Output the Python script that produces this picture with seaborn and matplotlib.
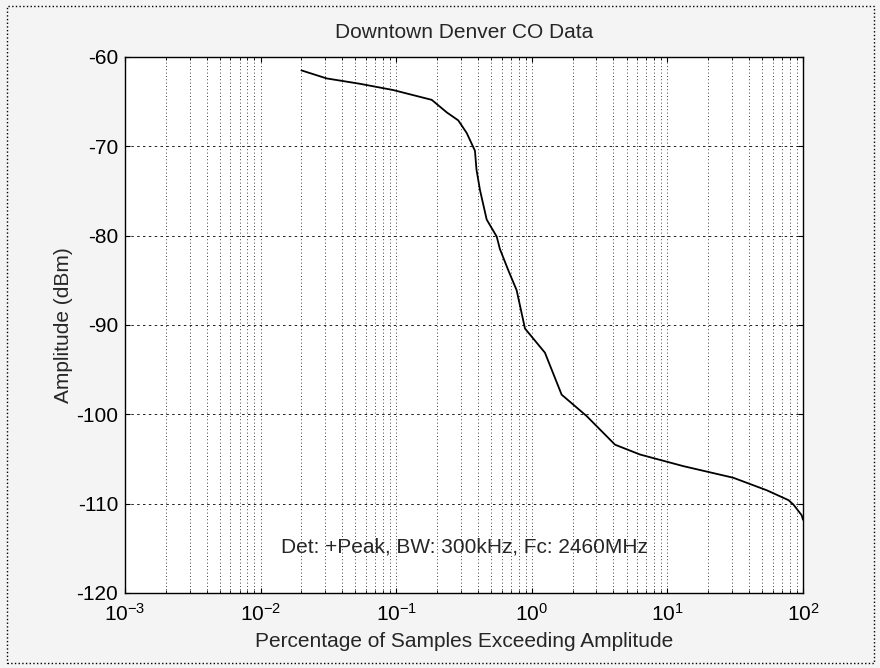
import matplotlib
matplotlib.use('Agg')
import matplotlib.pyplot as plt
import seaborn as sns
from matplotlib.patches import Rectangle

# Percentage of samples exceeding amplitude vs amplitude (dBm)
pct = [0.02, 0.0307, 0.054, 0.095, 0.183, 0.236, 0.287, 0.331, 0.381, 0.391,
       0.415, 0.465, 0.551, 0.582, 0.672, 0.773, 0.891, 1.25, 1.66, 2.54,
       4.11, 6.28, 13.1, 30.6, 54.0, 78.0, 85.0, 97.8, 100.0]
amp = [-61.5, -62.4, -63.0, -63.7, -64.8, -66.2, -67.1, -68.5, -70.5, -72.6,
       -74.9, -78.2, -80.1, -81.5, -83.9, -86.1, -90.4, -93.1, -97.8, -100.2,
       -103.4, -104.5, -105.8, -107.1, -108.5, -109.6, -110.1, -111.3, -111.8]

y_ticks = [-120, -110, -100, -90, -80, -70, -60]

sns.set_style('ticks')
plt.rcParams['font.family'] = ['Liberation Sans', 'DejaVu Sans']
plt.rcParams['axes.unicode_minus'] = False
fs = 15

fig = plt.figure(figsize=(8.8, 6.68), dpi=100, facecolor='#f4f4f4')
ax = fig.add_axes([0.142, 0.1123, 0.7705, 0.8024])
ax.set_facecolor('white')

sns.lineplot(x=pct, y=amp, color='black', linewidth=1.3, ax=ax)

ax.set_xscale('log')
ax.set_xlim(1e-3, 1e2)
ax.set_ylim(-120, -60)
ax.set_yticks(y_ticks)

ax.grid(True, which='major', axis='y', color='black', linestyle=(0, (3, 4)), linewidth=0.6)
ax.grid(True, which='both', axis='x', color='black', linestyle=(0, (1, 3)), linewidth=0.6)

ax.tick_params(which='both', direction='in', top=True, right=True, colors='black')
ax.tick_params(axis='y', labelsize=fs, pad=5)
ax.tick_params(axis='x', labelsize=fs, pad=7)
for s in ax.spines.values():
    s.set_linewidth(1.0)
    s.set_color('black')

ax.set_title('Downtown Denver CO Data', fontsize=fs, pad=14)
ax.set_xlabel('Percentage of Samples Exceeding Amplitude', fontsize=fs, labelpad=5)
ax.set_ylabel('Amplitude (dBm)', fontsize=fs, labelpad=2)

ax.text(0.5, 0.085, 'Det: +Peak, BW: 300kHz, Fc: 2460MHz', transform=ax.transAxes,
        ha='center', va='center', fontsize=fs)

fig.patches.append(Rectangle((0.008, 0.007), 0.985, 0.984, transform=fig.transFigure,
                             fill=False, linestyle=':', linewidth=1.0, edgecolor='black'))

fig.savefig('out.png', dpi=100, facecolor=fig.get_facecolor())
